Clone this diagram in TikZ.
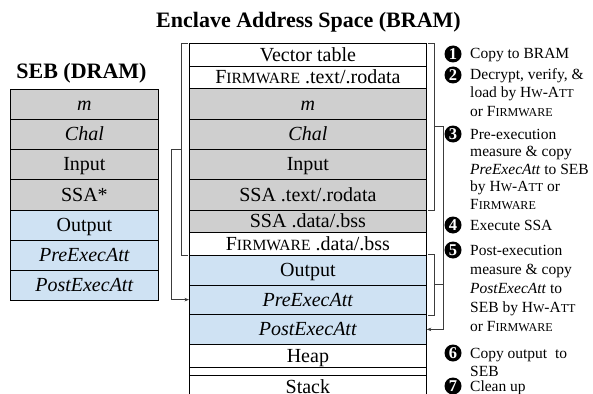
\documentclass[tikz,border=0pt]{standalone}
\usepackage{fontspec}
\setmainfont{Liberation Serif}
\usetikzlibrary{arrows.meta,calc}
\definecolor{rowgray}{RGB}{207,207,207}
\definecolor{rowblue}{RGB}{207,226,243}
\definecolor{lnk}{RGB}{60,60,60}
\makeatletter
\newcommand\fsc[1]{{\fontsize{\fpeval{0.78*\f@size}}{0}\selectfont #1}}
\makeatother
\newcommand\FW{F\fsc{IRMWARE}}
\newcommand\HWA{H\fsc{W}-A\fsc{TT}}
\begin{document}
\begin{tikzpicture}[x=1pt,y=-1pt,
  cell/.style={draw=black, line width=0.8pt, inner sep=0pt, anchor=north west,
    font=\fontsize{20}{22}\selectfont, text height=13pt, text depth=0pt},
  seb/.style={cell, minimum width=148pt},
  encl/.style={cell, minimum width=237pt},
  gcell/.style={fill=rowgray},
  bcell/.style={fill=rowblue},
  wcell/.style={fill=white},
  brk/.style={draw=lnk, line width=0.6pt},
  arr/.style={brk, -{Stealth[length=4.5pt,width=3.5pt]}},
  ttl/.style={font=\bfseries\fontsize{22}{26}\selectfont, anchor=base, inner sep=0pt},
  note/.style={font=\fontsize{15.5}{18}\selectfont, anchor=base west, inner sep=0pt},
  num/.style={circle, fill=black, text=white, inner sep=0pt, minimum size=17pt,
    font=\bfseries\fontsize{16.5}{16}\selectfont}
]
\clip (0,0) rectangle (593,393);

% titles
\node[ttl] (t1) at (308.5,28) {Enclave Address Space (BRAM)};
\node[ttl] (t2) at (81.5,79) {SEB (DRAM)};

% SEB (DRAM) table
\node[seb,gcell,minimum height=30pt] (s1) at (10,89) {\textit{m}};
\node[seb,gcell,minimum height=30pt] (s2) at (10,119) {\textit{Chal}};
\node[seb,gcell,minimum height=30pt] (s3) at (10,149) {Input};
\node[seb,gcell,minimum height=31pt] (s4) at (10,179) {SSA*};
\node[seb,bcell,minimum height=30pt] (s5) at (10,210) {Output};
\node[seb,bcell,minimum height=30pt] (s6) at (10,240) {\textit{PreExecAtt}};
\node[seb,bcell,minimum height=30pt] (s7) at (10,270) {\textit{PostExecAtt}};

% Enclave address space table
\node[encl,wcell,minimum height=23pt] (e1) at (189,43) {Vector table};
\node[encl,wcell,minimum height=22pt] (e2) at (189,66) {\FW{} .text/.rodata};
\node[encl,gcell,minimum height=30.5pt] (e3) at (189,88) {\textit{m}};
\node[encl,gcell,minimum height=30pt] (e4) at (189,118.5) {\textit{Chal}};
\node[encl,gcell,minimum height=30.5pt] (e5) at (189,148.5) {Input};
\node[encl,gcell,minimum height=30.5pt] (e6) at (189,179) {SSA .text/.rodata};
\node[encl,gcell,minimum height=22.5pt] (e7) at (189,209.5) {SSA .data/.bss};
\node[encl,wcell,minimum height=22.5pt] (e8) at (189,232) {\FW{} .data/.bss};
\node[encl,bcell,minimum height=30pt] (e9) at (189,254.5) {Output};
\node[encl,bcell,minimum height=29.5pt] (e10) at (189,284.5) {\textit{PreExecAtt}};
\node[encl,bcell,minimum height=30pt] (e11) at (189,314) {\textit{PostExecAtt}};
\node[encl,wcell,minimum height=23pt] (e12) at (189,344) {Heap};
\node[encl,wcell,minimum height=8pt] (e13) at (189,367) {};
\node[encl,wcell,minimum height=23pt] (e14) at (189,375) {Stack};

% left bracket and its connector
\draw[brk] ([xshift=-1pt]e1.north west) -- ++(-7,0) |- ([xshift=-1pt]e8.south west);
\coordinate (lbm) at ($(e1.north west)!0.5!(e8.south west)+(-8,0)$);
\draw[arr] (lbm) -- ++(-10,0) |- (e10.west);

% right brackets and connector
\draw[brk] ([xshift=1pt]e1.north east) -- ++(6,0) |- ([xshift=1pt]e6.south east);
\coordinate (rb1) at ($(e1.north east)!0.5!(e6.south east)+(7,0)$);
\draw[brk] ([xshift=1pt]e9.north east) -- ++(6,0) |- ([xshift=1pt]e10.south east);
\coordinate (rb3) at ($(e9.north east)!0.5!(e10.south east)+(7,0)$);
\coordinate (rj) at ($(rb1)+(9,0)$);
\draw[arr] (rb1) -- (rj) |- (e11.east);
\draw[brk] (rb3) -- (rb3 -| rj);

% numbered steps
\node[num] (c1) at (453,54) {1};
\node[note] (n11) at (470,59) {Copy to BRAM};
\node[num] (c2) at (453,75) {2};
\node[note] (n21) at (470,80) {Decrypt, verify, \&};
\node[note] (n22) at (470,98) {load by \HWA};
\node[note] (n23) at (470,116) {or \FW};
\node[num] (c3) at (453,134) {3};
\node[note] (n31) at (470,139) {Pre-execution};
\node[note] (n32) at (470,156.5) {measure \& copy};
\node[note] (n33) at (470,174) {\textit{PreExecAtt} to SEB};
\node[note] (n34) at (470,191.5) {by \HWA{} or};
\node[note] (n35) at (470,209) {\FW};
\node[num] (c4) at (453,225) {4};
\node[note] (n41) at (470,230) {Execute SSA};
\node[num] (c5) at (453,250) {5};
\node[note] (n51) at (470,255) {Post-execution};
\node[note] (n52) at (470,274) {measure \& copy};
\node[note] (n53) at (470,293) {\textit{PostExecAtt} to};
\node[note] (n54) at (470,312) {SEB by \HWA};
\node[note] (n55) at (470,331) {or \FW};
\node[num] (c6) at (453,353) {6};
\node[note] (n61) at (470,358) {Copy output\ \ to};
\node[note] (n62) at (470,376) {SEB};
\node[num] (c7) at (453,386) {7};
\node[note] (n71) at (470,391) {Clean up};
\end{tikzpicture}
\end{document}
